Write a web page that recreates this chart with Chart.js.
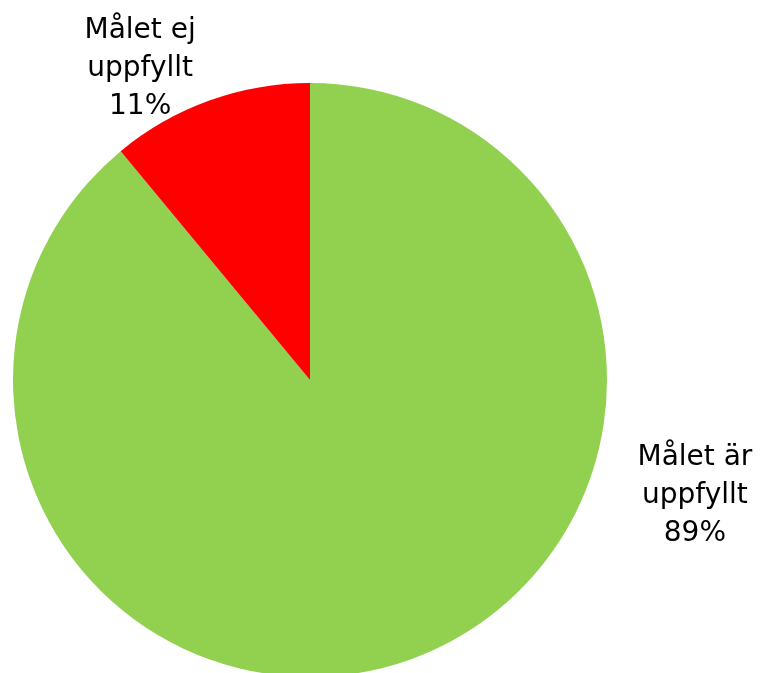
<!DOCTYPE html>
<html>
<head>
<meta charset="utf-8">
<script src="https://cdn.jsdelivr.net/npm/chart.js@4"></script>
<style>
  html, body { margin: 0; padding: 0; background: #fff; overflow: hidden; }
  #wrap { position: absolute; left: 0; top: 0; width: 760px; height: 700px; }
</style>
</head>
<body>
<div id="wrap"><canvas id="pie" width="760" height="700"></canvas></div>
<script>
const categories = ["Målet är uppfyllt", "Målet ej uppfyllt"];
const values = [89, 11];
const colors = ["#92D050", "#FF0000"];
// label text lines, placed relative to the pie centre in units of radius
const labelLines = [
  ["Målet är", "uppfyllt", "89%"],
  ["Målet ej", "uppfyllt", "11%"]
];
const labelAnchor = [[1.296, 0.286], [-0.572, -1.152]];

const outsideLabels = {
  id: "outsideLabels",
  afterDatasetsDraw(chart) {
    const ctx = chart.ctx;
    const arcs = chart.getDatasetMeta(0).data;
    ctx.save();
    ctx.font = "28px 'DejaVu Sans'";
    ctx.fillStyle = "#000";
    ctx.textAlign = "center";
    ctx.textBaseline = "alphabetic";
    arcs.forEach((arc, i) => {
      const r = arc.outerRadius;
      const x = arc.x + labelAnchor[i][0] * r;
      let y = arc.y + labelAnchor[i][1] * r;
      labelLines[i].forEach(line => {
        ctx.fillText(line, x, y);
        y += 38;
      });
    });
    ctx.restore();
  }
};

new Chart(document.getElementById("pie"), {
  type: "pie",
  data: {
    labels: categories,
    datasets: [{
      data: values,
      backgroundColor: colors,
      borderWidth: 0
    }]
  },
  options: {
    responsive: false,
    animation: false,
    layout: { padding: { left: 13, right: 153, top: 83, bottom: 23 } },
    plugins: {
      legend: { display: false },
      tooltip: { enabled: false }
    }
  },
  plugins: [outsideLabels]
});
</script>
</body>
</html>
